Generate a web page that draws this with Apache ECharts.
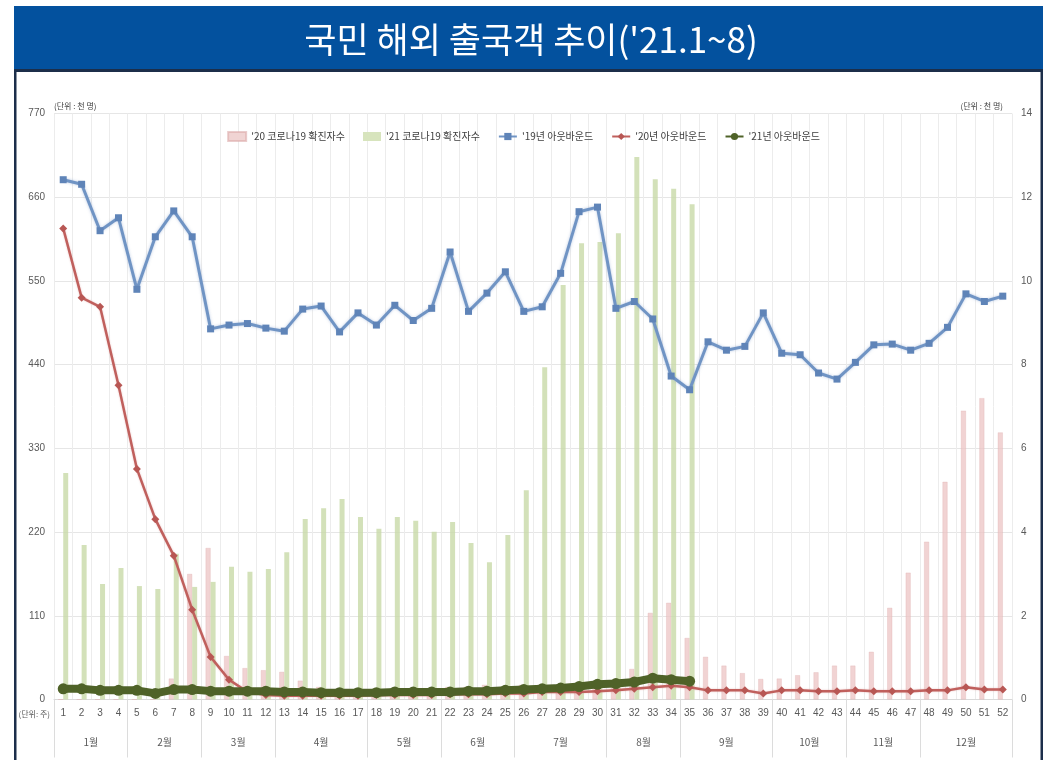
<!DOCTYPE html>
<html>
<head>
<meta charset="utf-8">
<script src="https://cdn.jsdelivr.net/npm/echarts@6/dist/echarts.min.js"></script>
<style>html,body{margin:0;padding:0;background:#fff}#c{width:1047px;height:760px}</style>
</head>
<body>
<div id="c"></div>
<script>
// ---- data ----
const weeks = ['1','2','3','4','5','6','7','8','9','10','11','12','13','14','15','16','17','18','19','20',
  '21','22','23','24','25','26','27','28','29','30','31','32','33','34','35','36','37','38','39','40',
  '41','42','43','44','45','46','47','48','49','50','51','52'];
const monthNames = ['1월','2월','3월','4월','5월','6월','7월','8월','9월','10월','11월','12월'];
const monthWeeks = [4,4,4,5,4,4,5,4,5,4,4,5];
const leftTicks = [0,110,220,330,440,550,660,770];
const rightTicks = [0,2,4,6,8,10,12,14];

// weekly confirmed COVID-19 cases (thousand persons, right axis)
const covid20 = [0,0,0,0,0,0,0.5,3.0,3.62,1.04,0.75,0.7,0.66,0.45,0.3,0.2,0.1,0.1,0.15,0.2,
  0.25,0.3,0.3,0.35,0.3,0.35,0.35,0.3,0.3,0.3,0.3,0.73,2.07,2.31,1.47,1.02,0.81,0.63,0.49,0.5,
  0.58,0.65,0.81,0.81,1.14,2.19,3.03,3.77,5.2,6.9,7.2,6.38];
const covid21 = [5.41,3.69,2.76,3.14,2.71,2.64,3.48,2.69,2.81,3.17,3.05,3.12,3.52,4.31,4.57,4.79,4.36,4.08,4.36,4.27,
  4.01,4.24,3.74,3.28,3.93,5.00,7.94,9.90,10.9,10.93,11.14,12.96,12.43,12.2,11.83];

// weekly outbound travellers (thousand persons, left axis)
const out19 = [683,677,616,633,539,608,642,608,487,492,494,488,484,513,517,483,508,492,518,498,
  514,588,510,534,562,510,516,560,641,647,514,523,500,425,407,470,459,464,508,455,
  453,429,421,443,466,467,459,468,489,533,523,530];
const out20 = [619,528,516,413,303,237,189,118,56,26,10,6,5,5,5,5,5,6,6,6,
  6,7,7,7,8,8,10,10,10,11,12,14,16,18,16,12,12,12,8,12,
  12,11,11,12,11,11,11,12,12,16,13,13];
const out21 = [14,14,12,12,12,8,13,13,11,11,11,11,10,10,9,9,9,9,10,10,
  10,10,11,11,12,13,14,15,17,20,21,23,28,26,24];

// ---- month row built from the week groups (half-week slots) ----
const nSlots = weeks.length * 2 + 1;
const monthSlotLabel = [];
const monthSlots = [];
for (let i = 0; i < nSlots; i++) { monthSlotLabel.push(''); monthSlots.push(String(i)); }
const monthBounds = new Set([0]);
let acc = 0;
monthNames.forEach((m, i) => {
  const n = monthWeeks[i];
  monthSlotLabel[acc * 2 + n] = m;
  acc += n;
  monthBounds.add(acc * 2);
});

const NUMFONT = "'Liberation Sans Narrow','Liberation Sans','Noto Sans CJK KR',sans-serif";
const KFONT = "'Noto Sans CJK KR',sans-serif";

const chart = echarts.init(document.getElementById('c'), null, {renderer: 'canvas'});
chart.setOption({
  animation: false,
  backgroundColor: '#ffffff',
  graphic: [
    {type: 'rect', silent: true, shape: {x: 14, y: 6, width: 1029, height: 64}, style: {fill: '#03519e'}},
    {type: 'rect', silent: true, shape: {x: 14, y: 69, width: 1029, height: 3}, style: {fill: '#1c2e4a'}},
    {type: 'rect', silent: true, shape: {x: 14, y: 70, width: 2.5, height: 690}, style: {fill: '#1c2e4a'}},
    {type: 'rect', silent: true, shape: {x: 1040.5, y: 70, width: 2.5, height: 690}, style: {fill: '#1c2e4a'}},
    {type: 'text', silent: true, x: 531, y: 40,
      style: {text: "국민 해외 출국객 추이('21.1~8)", fill: '#ffffff', font: "35px " + KFONT, align: 'center', verticalAlign: 'middle'}},
    {type: 'text', silent: true, x: 50, y: 714,
      style: {text: '(단위: 주)', fill: '#595959', font: "8px " + KFONT, align: 'right', verticalAlign: 'middle'}}
  ],
  legend: {
    top: 126,
    left: 'center',
    itemGap: 18,
    itemWidth: 18,
    itemHeight: 9,
    textStyle: {fontFamily: KFONT, fontSize: 10, color: '#404040'},
    data: [
      {name: "'20 코로나19 확진자수", icon: 'rect', itemStyle: {color: '#f0d4d3'}},
      {name: "'21 코로나19 확진자수", icon: 'rect', itemStyle: {color: '#d7e4bd'}},
      {name: "'19년 아웃바운드"},
      {name: "'20년 아웃바운드"},
      {name: "'21년 아웃바운드"}
    ]
  },
  grid: {left: 54, right: 35, top: 113.5, bottom: 60.5, outerBoundsMode: 'none'},
  xAxis: [
    {
      type: 'category',
      data: weeks,
      axisLine: {show: true, lineStyle: {color: '#d9d9d9'}},
      axisTick: {show: false},
      splitLine: {show: true, lineStyle: {color: '#ececec'}},
      axisLabel: {interval: 0, margin: 9, fontSize: 10, color: '#595959', fontFamily: NUMFONT}
    },
    {
      type: 'category',
      data: monthSlots,
      position: 'bottom',
      boundaryGap: false,
      axisLine: {show: false},
      splitLine: {show: false},
      axisTick: {show: true, length: 58, interval: (idx) => monthBounds.has(idx), lineStyle: {color: '#dcdcdc'}},
      axisLabel: {interval: 0, margin: 38, fontSize: 10, color: '#595959', fontFamily: KFONT,
        formatter: (v, idx) => monthSlotLabel[idx]}
    }
  ],
  yAxis: [
    {
      type: 'value', min: leftTicks[0], max: leftTicks[leftTicks.length - 1], interval: leftTicks[1] - leftTicks[0],
      name: '(단위 : 천 명)', nameLocation: 'end', nameGap: 4, nameMoveOverlap: false,
      nameTextStyle: {align: 'left', verticalAlign: 'bottom', fontSize: 8, color: '#404040', fontFamily: KFONT},
      axisLine: {show: false}, axisTick: {show: false},
      splitLine: {show: true, lineStyle: {color: '#e6e6e6'}},
      axisLabel: {margin: 9, fontSize: 10, color: '#595959', fontFamily: NUMFONT}
    },
    {
      type: 'value', min: rightTicks[0], max: rightTicks[rightTicks.length - 1], interval: rightTicks[1] - rightTicks[0],
      position: 'right',
      name: '(단위 : 천 명)', nameLocation: 'end', nameGap: 4, nameMoveOverlap: false,
      nameTextStyle: {align: 'right', verticalAlign: 'bottom', fontSize: 8, color: '#404040', fontFamily: KFONT, padding: [0, 9, 0, 0]},
      axisLine: {show: false}, axisTick: {show: false}, splitLine: {show: false},
      axisLabel: {margin: 9, fontSize: 10, color: '#595959', fontFamily: NUMFONT}
    }
  ],
  series: [
    {
      name: "'20 코로나19 확진자수", type: 'bar', yAxisIndex: 1, data: covid20,
      barWidth: 5, barGap: '0%',
      itemStyle: {color: 'rgba(236,196,196,0.75)', borderColor: 'rgba(220,170,170,0.6)', borderWidth: 0.5}
    },
    {
      name: "'21 코로나19 확진자수", type: 'bar', yAxisIndex: 1, data: covid21,
      barWidth: 5, barGap: '0%',
      itemStyle: {color: 'rgba(200,218,168,0.8)'}
    },
    {
      name: "'19년 아웃바운드", type: 'line', yAxisIndex: 0, data: out19,
      symbol: 'rect', symbolSize: 7, showAllSymbol: true,
      lineStyle: {color: '#7094c4', width: 3, shadowColor: 'rgba(120,150,200,0.5)', shadowBlur: 3},
      itemStyle: {color: '#5f84b8'}
    },
    {
      name: "'20년 아웃바운드", type: 'line', yAxisIndex: 0, data: out20,
      symbol: 'diamond', symbolSize: 8, showAllSymbol: true,
      lineStyle: {color: '#c0605d', width: 2.5, shadowColor: 'rgba(200,110,110,0.4)', shadowBlur: 2},
      itemStyle: {color: '#b85754'}
    },
    {
      name: "'21년 아웃바운드", type: 'line', yAxisIndex: 0, data: out21,
      symbol: 'circle', symbolSize: 11, showAllSymbol: true,
      lineStyle: {color: '#4f6228', width: 8},
      itemStyle: {color: '#4f6228'}
    }
  ]
});
</script>
</body>
</html>
